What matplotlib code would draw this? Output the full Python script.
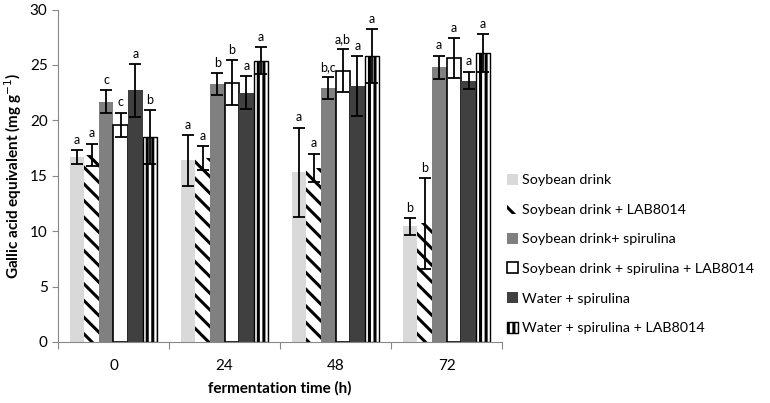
import matplotlib
matplotlib.use('Agg')
import matplotlib.pyplot as plt
import numpy as np

plt.rcParams['font.family'] = ['Lato', 'DejaVu Sans']
plt.rcParams['hatch.linewidth'] = 2.2

# data
times = ['0', '24', '48', '72']
groups = ['Soybean drink', 'Soybean drink + LAB8014', 'Soybean drink+ spirulina',
          'Soybean drink + spirulina + LAB8014', 'Water + spirulina',
          'Water + spirulina + LAB8014']

soy = [16.7, 16.4, 15.3, 10.45]
soy_lab = [16.9, 16.6, 15.7, 10.7]
soy_spi = [21.7, 23.3, 22.9, 24.8]
soy_spi_lab = [19.6, 23.4, 24.5, 25.6]
wat_spi = [22.7, 22.5, 23.1, 23.6]
wat_spi_lab = [18.5, 25.4, 25.8, 26.1]

soy_err = [0.65, 2.3, 4.05, 0.75]
soy_lab_err = [1.0, 1.1, 1.3, 4.1]
soy_spi_err = [1.05, 1.0, 1.0, 1.05]
soy_spi_lab_err = [1.1, 2.05, 1.95, 1.8]
wat_spi_err = [2.35, 1.5, 2.7, 0.8]
wat_spi_lab_err = [2.4, 1.25, 2.45, 1.7]

soy_let = ['a', 'a', 'a', 'b']
soy_lab_let = ['a', 'a', 'a', 'b']
soy_spi_let = ['c', 'b', 'b,c', 'a']
soy_spi_lab_let = ['c', 'b', 'a,b', 'a']
wat_spi_let = ['a', 'a', 'a', 'a']
wat_spi_lab_let = ['b', 'a', 'a', 'a']

values = [soy, soy_lab, soy_spi, soy_spi_lab, wat_spi, wat_spi_lab]
errors = [soy_err, soy_lab_err, soy_spi_err, soy_spi_lab_err, wat_spi_err, wat_spi_lab_err]
letters = [soy_let, soy_lab_let, soy_spi_let, soy_spi_lab_let, wat_spi_let, wat_spi_lab_let]

styles = [
    dict(color='#D9D9D9', edgecolor='none'),
    dict(facecolor='white', edgecolor='black', hatch='\\\\', linewidth=0),
    dict(color='#808080', edgecolor='none'),
    dict(facecolor='white', edgecolor='black', linewidth=1.2),
    dict(color='#404040', edgecolor='none'),
    dict(facecolor='white', edgecolor='black', hatch='|||', linewidth=1.0),
]

fig = plt.figure(figsize=(7.7, 4.03), dpi=100)
ax = fig.add_axes([0.0753, 0.1514, 0.5767, 0.8248])

x = np.arange(len(times))
w = 0.132
handles = []
for i in range(6):
    pos = x + (i - 2.5) * w
    b = ax.bar(pos, values[i], w, yerr=errors[i], label=groups[i],
               error_kw=dict(ecolor='black', elinewidth=1.3, capsize=4, capthick=1.3),
               **styles[i])
    handles.append(b)
    for p, v, e, t in zip(pos, values[i], errors[i], letters[i]):
        ax.annotate(t, (p, v + e), xytext=(0, 3), textcoords='offset points',
                    ha='center', va='bottom', fontsize=9)

ax.set_xlim(-0.5, 3.5)
ax.set_ylim(0, 30)
ax.set_yticks(range(0, 31, 5))
ax.set_xticks(np.arange(-0.5, 4, 1))
ax.set_xticklabels([])
ax.set_xticks(x, minor=True)
ax.set_xticklabels(times, minor=True)
ax.tick_params(axis='x', which='minor', length=0, pad=12, labelsize=11)
ax.tick_params(axis='x', which='major', length=5, color='#888888', direction='out')
ax.tick_params(axis='y', length=4, color='#888888', labelsize=11)
for s in ['top', 'right']:
    ax.spines[s].set_visible(False)
for s in ['left', 'bottom']:
    ax.spines[s].set_color('#888888')

ax.set_ylabel('Gallic acid equivalent (mg g$^{-1}$)', fontsize=11, fontweight='bold')
ax.set_xlabel('fermentation time (h)', fontsize=11, fontweight='bold', labelpad=6)

fig.legend(handles=handles, labels=groups, loc='center left',
           bbox_to_anchor=(0.658, 0.37), frameon=False, fontsize=10.3,
           borderpad=0, borderaxespad=0,
           handlelength=0.8, handleheight=0.8, handletextpad=0.25, labelspacing=1.2)

plt.savefig('out.png', dpi=100)
